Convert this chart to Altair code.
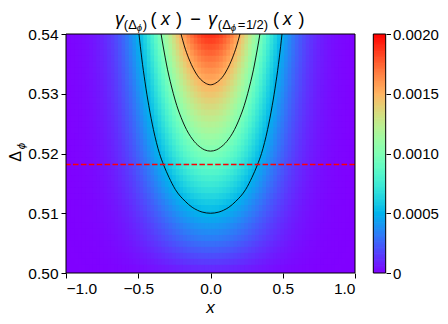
import numpy as np
import pandas as pd
import altair as alt

# ---- data ----
# profile along |x| at fixed Delta (relative to x = 0)
x_abs = [0.000, 0.025, 0.050, 0.075, 0.100, 0.125, 0.150, 0.175, 0.200, 0.225,
         0.250, 0.275, 0.300, 0.325, 0.350, 0.375, 0.400, 0.425, 0.450, 0.475,
         0.500, 0.525, 0.550, 0.575, 0.600, 0.625, 0.650, 0.675, 0.700, 0.725,
         0.750, 0.775, 0.800, 0.825, 0.850, 0.875, 0.900, 0.925, 0.950, 0.975, 1.000]
g_profile = [1.000, 0.997, 0.987, 0.970, 0.947, 0.919, 0.885, 0.847, 0.806, 0.761,
             0.713, 0.664, 0.615, 0.565, 0.516, 0.468, 0.421, 0.377, 0.335, 0.295,
             0.259, 0.225, 0.195, 0.167, 0.143, 0.121, 0.102, 0.085, 0.071, 0.058,
             0.048, 0.039, 0.031, 0.025, 0.020, 0.016, 0.0125, 0.0098, 0.0076, 0.0059, 0.0045]
# profile along Delta at x = 0
delta_vals = [0.500, 0.501, 0.502, 0.503, 0.504, 0.505, 0.506, 0.507, 0.508, 0.509,
              0.510, 0.511, 0.512, 0.513, 0.514, 0.515, 0.516, 0.517, 0.518, 0.519,
              0.520, 0.521, 0.522, 0.523, 0.524, 0.525, 0.526, 0.527, 0.528, 0.529,
              0.530, 0.531, 0.532, 0.533, 0.534, 0.535, 0.536, 0.537, 0.538, 0.539, 0.540]
f_profile = [0.000060, 0.000105, 0.000150, 0.000195, 0.000240, 0.000285, 0.000330, 0.000370,
             0.000410, 0.000455, 0.000500, 0.000545, 0.000590, 0.000640, 0.000690, 0.000735,
             0.000780, 0.000830, 0.000880, 0.000930, 0.000980, 0.001025, 0.001070, 0.001115,
             0.001160, 0.001205, 0.001250, 0.001295, 0.001340, 0.001385, 0.001430, 0.001475,
             0.001520, 0.001565, 0.001610, 0.001655, 0.001700, 0.001745, 0.001790, 0.001835,
             0.001880]

# contour lines (half-width in x at each Delta)
c05_delta = [0.5100, 0.5102, 0.5105, 0.511, 0.512, 0.514, 0.516, 0.518, 0.520, 0.524, 0.528, 0.532, 0.536, 0.540]
c05_half = [0.000, 0.058, 0.090, 0.127, 0.175, 0.244, 0.287, 0.323, 0.353, 0.395, 0.427, 0.4535, 0.476, 0.495]
c10_delta = [0.5204, 0.5206, 0.521, 0.522, 0.524, 0.526, 0.528, 0.530, 0.532, 0.534, 0.536, 0.538, 0.540]
c10_half = [0.000, 0.040, 0.068, 0.112, 0.166, 0.203, 0.233, 0.257, 0.278, 0.297, 0.313, 0.328, 0.342]
c15_delta = [0.5315, 0.5318, 0.532, 0.533, 0.534, 0.536, 0.538, 0.540]
c15_half = [0.000, 0.037, 0.049, 0.089, 0.114, 0.152, 0.181, 0.204]
contour_levels = [0.0005, 0.0010, 0.0015]

red_line_delta = 0.518149
x_ticks = [-1.0, -0.5, 0.0, 0.5, 1.0]
y_ticks = [0.50, 0.51, 0.52, 0.53, 0.54]
cb_ticks = [0.0, 0.0005, 0.0010, 0.0015, 0.0020]

# ---- build tables ----
xs = [-v for v in reversed(x_abs[1:])] + x_abs
gs = list(reversed(g_profile[1:])) + g_profile
hx = 0.0125 * 1.25
hy = 0.0005 * 1.25
rows = []
for d, f in zip(delta_vals, f_profile):
    for xc, g in zip(xs, gs):
        rows.append({"x0": xc - hx, "x1": xc + hx, "y0": d - hy, "y1": d + hy, "v": f * g})
heat_df = pd.DataFrame(rows)

crows = []
for lev, ds, ws in zip(contour_levels, [c05_delta, c10_delta, c15_delta], [c05_half, c10_half, c15_half]):
    pts = [(-w, d) for d, w in zip(reversed(ds), reversed(ws))] + [(w, d) for d, w in zip(ds[1:], ws[1:])]
    for i, (xx, dd) in enumerate(pts):
        crows.append({"x0": xx, "y0": dd, "level": str(lev), "o": i})
cont_df = pd.DataFrame(crows)

# matplotlib "rainbow" colormap stops
t = np.linspace(0, 1, 21)
r = np.clip(np.abs(2 * t - 0.5), 0, 1)
gg = np.clip(np.sin(np.pi * t), 0, 1)
b = np.clip(np.cos(np.pi * t / 2), 0, 1)
colors = ["#%02x%02x%02x" % (int(round(a * 255)), int(round(c * 255)), int(round(e * 255))) for a, c, e in zip(r, gg, b)]

cb_step = 0.00001
cb_v0 = np.arange(0, 0.002, cb_step)
cb_df = pd.DataFrame({"v0": cb_v0, "v1": np.minimum(cb_v0 + cb_step * 1.6, 0.002), "c": cb_v0 + cb_step / 2})

W, H = 289, 239
FONT = "Liberation Sans"
LS = 15.5

xscale = alt.Scale(domain=[-1, 1], nice=False, zero=False)
yscale = alt.Scale(domain=[0.50, 0.54], nice=False, zero=False)
cscale = alt.Scale(domain=[0, 0.002], range=colors, interpolate="rgb", clamp=True)
xaxis = alt.Axis(values=x_ticks, format=".1f", title=None)
yaxis = alt.Axis(values=y_ticks, format=".2f", title=None)

heat = alt.Chart(heat_df).mark_rect(clip=True, strokeWidth=0).encode(
    x=alt.X("x0:Q", scale=xscale, axis=xaxis),
    x2="x1:Q",
    y=alt.Y("y0:Q", scale=yscale, axis=yaxis),
    y2="y1:Q",
    color=alt.Color("v:Q", scale=cscale, legend=None),
)

contour = alt.Chart(cont_df).mark_line(color="black", strokeWidth=0.9, clip=True, interpolate="monotone").encode(
    x=alt.X("x0:Q", scale=xscale, axis=xaxis),
    y=alt.Y("y0:Q", scale=yscale, axis=yaxis),
    detail="level:N",
    order="o:Q",
)

rule = alt.Chart(pd.DataFrame({"y0": [red_line_delta]})).mark_rule(
    color="#ff0000", strokeWidth=1.5, strokeDash=[5.5, 2.4]
).encode(y=alt.Y("y0:Q", scale=yscale, axis=yaxis))

one = pd.DataFrame({"a": [0]})
frame = alt.Chart(one).mark_rect(fillOpacity=0, stroke="black", strokeWidth=1).encode(
    x=alt.value(0), x2=alt.value(W), y=alt.value(0), y2=alt.value(H)
)

main = alt.layer(heat, contour, rule, frame)

CBX0, CBX1 = 307.3, 319.7
cbar = alt.Chart(cb_df).mark_rect(strokeWidth=0).encode(
    x=alt.value(CBX0), x2=alt.value(CBX1),
    y=alt.Y("v0:Q", scale=alt.Scale(domain=[0, 0.002], nice=False, zero=False),
            axis=alt.Axis(orient="right", offset=31, values=cb_ticks, title=None,
                          labelFontSize=15, labelPadding=2, tickSize=4.5,
                          labelExpr="datum.value == 0 ? '0' : format(datum.value, '.4f')")),
    y2="v1:Q",
    color=alt.Color("c:Q", scale=cscale, legend=None),
)
cb_frame = alt.Chart(one).mark_rect(fillOpacity=0, stroke="black", strokeWidth=1).encode(
    x=alt.value(CBX0), x2=alt.value(CBX1), y=alt.value(0), y2=alt.value(H)
)
colorbar = alt.layer(cbar, cb_frame)


def txt(s, x, y, size, italic=False, angle=0):
    return alt.Chart(pd.DataFrame({"t": [s]})).mark_text(
        font=FONT, fontSize=size, fontStyle="italic" if italic else "normal",
        align="center", baseline="alphabetic", angle=angle, color="black"
    ).encode(x=alt.value(x), y=alt.value(y), text="t:N")


OX, OY = 66, 34
MB, SB, SSB = 25, 28.5, 30.5
TS, SS, SSS = 18, 13, 9.5
title_parts = [
    ("γ", 119.5, MB, TS, True),
    ("(", 126, SB, SS, False), ("Δ", 132.5, SB, SS, False), ("ϕ", 139.5, SSB, SSS, True), (")", 145, SB, SS, False),
    ("(", 153.5, MB, TS, False), ("x", 165.5, MB, TS, True), (")", 179, MB, TS, False),
    ("−", 195.5, MB, TS, False),
    ("γ", 212.5, MB, TS, True),
    ("(", 220, SB, SS, False), ("Δ", 226.5, SB, SS, False), ("ϕ", 233.5, SSB, SSS, True),
    ("=", 241.5, SB, SS, False), ("1", 249.5, SB, SS, False), ("/", 254.5, SB, SS, False),
    ("2", 260, SB, SS, False), (")", 266, SB, SS, False),
    ("(", 276, MB, TS, False), ("x", 287.5, MB, TS, True), (")", 301.5, MB, TS, False),
]
texts = [txt(s, x - OX, y - OY, sz, it) for s, x, y, sz, it in title_parts]
texts.append(txt("x", 210.5 - OX, 313 - OY, 17, True))
texts.append(txt("Δ", 21 - OX, 156.5 - OY, 16, False, 270))
texts.append(txt("ϕ", 24.5 - OX, 146 - OY, 11.5, True, 270))

chart = alt.layer(main, colorbar, *texts).resolve_scale(y="independent").properties(
    width=W, height=H,
    autosize=alt.AutoSizeParams(type="none"),
    padding={"left": 58, "top": 26, "right": 85, "bottom": 43},
).configure_view(stroke=None).configure_axis(
    labelFont=FONT, labelFontSize=LS, labelColor="black", tickColor="black",
    tickSize=5, tickWidth=1, grid=False, domain=False, labelPadding=3,
)

chart.save("out.html", embed_options={"renderer": "svg", "actions": False})
